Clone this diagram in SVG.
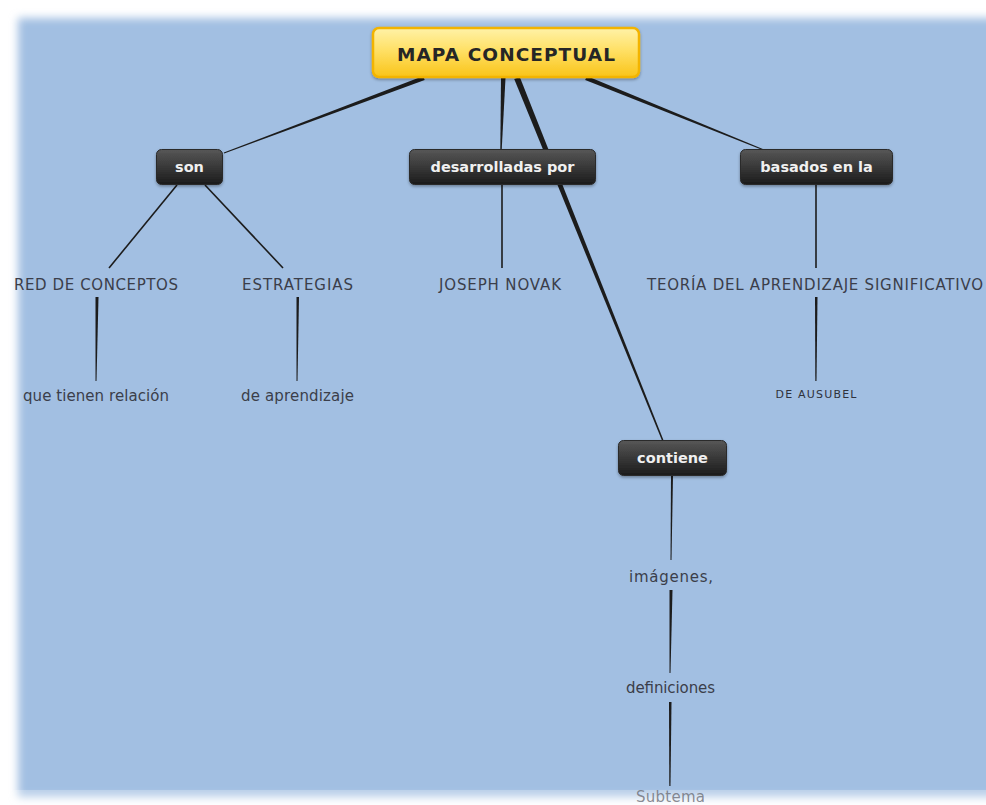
<svg xmlns="http://www.w3.org/2000/svg" width="986" height="805" viewBox="0 0 986 805">
<defs>
  <filter id="soft" filterUnits="userSpaceOnUse" x="-40" y="-40" width="1080" height="900">
    <feGaussianBlur stdDeviation="4.5"/>
  </filter>
  <linearGradient id="yel" x1="0" y1="0" x2="0" y2="1">
    <stop offset="0" stop-color="#fff2a8"/>
    <stop offset="0.45" stop-color="#ffe066"/>
    <stop offset="1" stop-color="#f9c418"/>
  </linearGradient>
  <linearGradient id="dark" x1="0" y1="0" x2="0" y2="1">
    <stop offset="0" stop-color="#575757"/>
    <stop offset="0.5" stop-color="#383838"/>
    <stop offset="1" stop-color="#1c1c1c"/>
  </linearGradient>
  <filter id="shadow" x="-10%" y="-20%" width="120%" height="150%">
    <feDropShadow dx="0" dy="1.5" stdDeviation="1.5" flood-color="#000" flood-opacity="0.35"/>
  </filter>
</defs>
<style>
  .box { fill: url(#dark); stroke: #2a2a2a; stroke-width: 1; filter: url(#shadow); }
  .boxtxt { font-family: "DejaVu Sans", Verdana, sans-serif; font-weight: bold; font-size: 14.5px; fill: #f0f0f0; text-anchor: middle; }
  .lbl { font-family: "DejaVu Sans", Verdana, sans-serif; font-size: 15px; fill: #3b3e4a; text-anchor: middle; }
  .cap { font-family: "DejaVu Sans", Verdana, sans-serif; font-size: 15px; fill: #3b3e4a; text-anchor: middle; }
  .small { font-family: "DejaVu Sans", Verdana, sans-serif; font-size: 11px; fill: #2f323c; text-anchor: middle; }
  .con { fill: #1c1c1c; }
  .thin { stroke: #1c1c1c; stroke-width: 1.6; fill: none; }
</style>
<rect x="0" y="0" width="986" height="805" fill="#ffffff"/>
<rect x="18" y="18" width="1010" height="779" fill="#a2bfe2" filter="url(#soft)"/>

<g id="connectors">
  <polygon class="con" points="423.3,76.1 223.8,152.5 224.2,153.5 424.7,79.9"/>
  <polygon class="con" points="501,78 500.3,150 501.7,150 505.5,78"/>
  <polygon class="con" points="514.2,79.1 662.3,441.3 663.7,440.7 519.8,76.9"/>
  <polygon class="con" points="585.2,79.9 763.8,150.5 764.2,149.5 586.8,76.1"/>
  <line class="thin" x1="177" y1="185" x2="109" y2="268"/>
  <line class="thin" x1="205" y1="185" x2="283" y2="268"/>
  <line class="thin" x1="502" y1="185" x2="502" y2="268"/>
  <line class="thin" x1="816" y1="185" x2="816" y2="268"/>
  <polygon class="con" points="95.5,297 95.5,381 96.5,381 98.5,297"/>
  <polygon class="con" points="296.5,297 296.5,381 297.5,381 299,297"/>
  <polygon class="con" points="815,297 815.3,381 816.5,381 817.5,297"/>
  <polygon class="con" points="671,476 670.5,560 671.5,560 673,476"/>
  <polygon class="con" points="669.5,590 669.5,673 670.5,673 672.5,590"/>
  <polygon class="con" points="669,702 669.3,786 670.5,786 671.5,702"/>
</g>

<g id="mapa">
  <rect x="373" y="28" width="266" height="49" rx="6" fill="url(#yel)" stroke="#f3b400" stroke-width="2.5" filter="url(#shadow)"/>
  <text x="506" y="60.5" font-family="DejaVu Sans, Verdana, sans-serif" font-weight="bold" font-size="18.5" fill="#262626" text-anchor="middle" textLength="218">MAPA CONCEPTUAL</text>
</g>

<g id="son">
  <rect class="box" x="156.5" y="149.5" width="66" height="35" rx="5"/>
  <text class="boxtxt" x="189.5" y="172">son</text>
</g>
<g id="desarrolladas">
  <rect class="box" x="409.5" y="149.5" width="186" height="35" rx="5"/>
  <text class="boxtxt" x="502.5" y="172">desarrolladas por</text>
</g>
<g id="basados">
  <rect class="box" x="740.5" y="149.5" width="152" height="35" rx="5"/>
  <text class="boxtxt" x="816.5" y="172">basados en la</text>
</g>
<g id="contiene">
  <rect class="box" x="618.5" y="440.5" width="108" height="35" rx="5"/>
  <text class="boxtxt" x="672.5" y="463">contiene</text>
</g>

<g id="red">
  <text class="cap" x="96" y="289.5" textLength="164">RED DE CONCEPTOS</text>
</g>
<g id="estrategias">
  <text class="cap" x="297.5" y="289.5" textLength="111">ESTRATEGIAS</text>
</g>
<g id="novak">
  <text class="cap" x="500" y="289.5" textLength="122">JOSEPH NOVAK</text>
</g>
<g id="teoria">
  <text class="cap" x="815" y="289.5" textLength="336">TEORÍA DEL APRENDIZAJE SIGNIFICATIVO</text>
</g>
<g id="relacion">
  <text class="lbl" x="96" y="401" textLength="146">que tienen relación</text>
</g>
<g id="aprendizaje">
  <text class="lbl" x="297.5" y="401" textLength="113">de aprendizaje</text>
</g>
<g id="ausubel">
  <text class="small" x="816" y="398" textLength="81">DE AUSUBEL</text>
</g>
<g id="imagenes">
  <text class="lbl" x="671" y="582" textLength="84">imágenes,</text>
</g>
<g id="definiciones">
  <text class="lbl" x="670.5" y="693" textLength="89">definiciones</text>
</g>
<g id="subtema">
  <text class="lbl" x="670.5" y="802" textLength="69" fill-opacity="0.8">Subtema</text>
</g>
<rect x="0" y="790" width="986" height="15" fill="#ffffff" opacity="0.25"/>
</svg>
